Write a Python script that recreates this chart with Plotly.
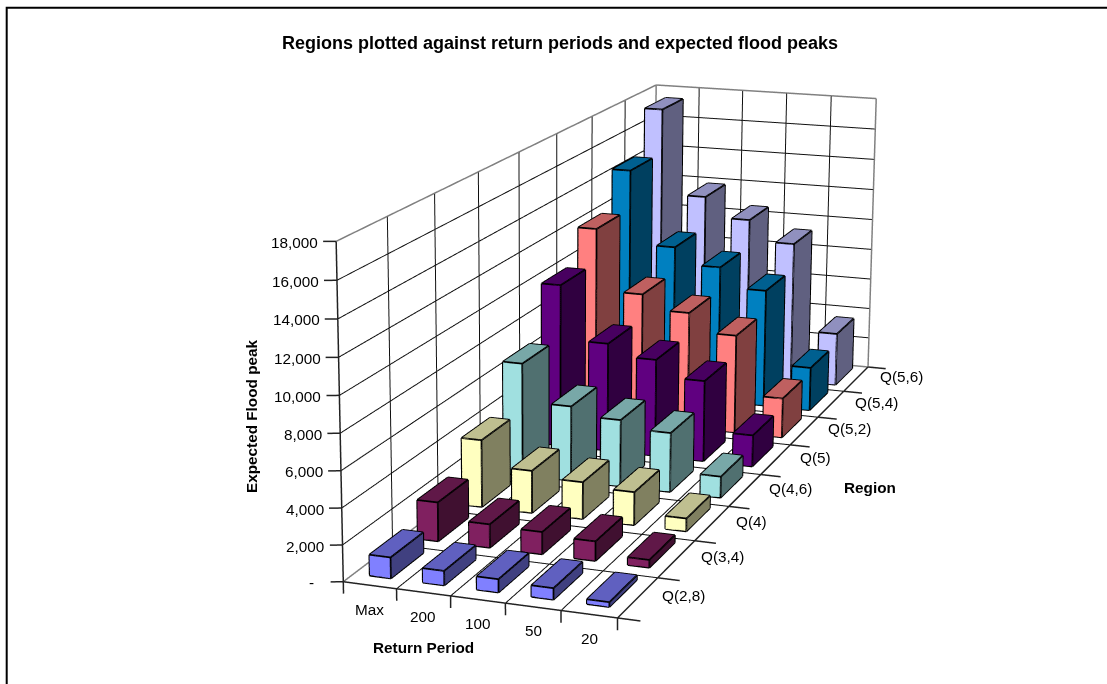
import numpy as np
import plotly.graph_objects as go

return_periods = ["Max", "200", "100", "50", "20"]
regions = ["Q(2,8)", "Q(3,4)", "Q(4)", "Q(4,6)", "Q(5)", "Q(5,2)", "Q(5,4)", "Q(5,6)"]
q28 = [1150, 790, 720, 620, 260]
q34 = [2200, 1320, 1250, 1090, 430]
q4 = [3900, 2450, 2130, 1900, 740]
q46 = [6700, 4450, 3950, 3500, 1250]
q5 = [9900, 6600, 5900, 4900, 1900]
q52 = [12000, 8150, 7250, 6100, 2450]
q54 = [14450, 9750, 8700, 7450, 2750]
q56 = [17300, 11750, 10450, 9100, 3400]
series = [q28, q34, q4, q46, q5, q52, q54, q56]
front = ["#8080FF", "#802060", "#FFFFC0", "#A0E0E0", "#600080", "#FF8080", "#0080C0", "#C0C0FF"]
top = ["#6060C0", "#601848", "#BFBF90", "#78A8A8", "#480060", "#BF6060", "#006090", "#9090BF"]
side = ["#404080", "#401030", "#808060", "#507070", "#300040", "#804040", "#004060", "#606080"]

W, H = 1107, 684
ZM = 18000
# camera for the axis box (0..5, 0..8, 0..ZM)
eye0 = np.array([3.3074, -9.7425, 2.6156])
center0 = np.array([-0.3024, -0.1446, -0.1085])
asp0 = np.array([1.0, 3.3489, 1.2004])
focal = 2737.1
fovy = 2 * np.arctan((H / 2) / focal)
# ranges widened slightly so that the frame and tick marks are not clipped
lo0 = np.array([0.0, 0.0, 0.0]); hi0 = np.array([5.0, 8.0, float(ZM)])
lo = np.array([-0.3, -0.1, -1000.0]); hi = np.array([5.5, 8.1, ZM + 300.0])
k = asp0 / (hi0 - lo0)
asp = asp0 * (hi - lo) / (hi0 - lo0)
shift = ((lo0 + hi0) - (lo + hi)) / 2 * k
eye = eye0 + shift
center = center0 + shift

bar_w = 0.4
bar_d = 0.68
row_offset = 0.05
xs = []; ys = []; zs = []
fig = go.Figure()
for s, vals in enumerate(series):
    X = []; Y = []; Z = []; I = []; J_ = []; K = []; C = []
    for c, v in enumerate(vals):
        x0, x1 = c + 0.5 - bar_w / 2, c + 0.5 + bar_w / 2
        y0, y1 = s + 0.5 + row_offset - bar_d / 2, s + 0.5 + row_offset + bar_d / 2
        n = len(X)
        X += [x0, x1, x1, x0, x0, x1, x1, x0]
        Y += [y0, y0, y1, y1, y0, y0, y1, y1]
        Z += [0, 0, 0, 0, v, v, v, v]
        quads = [((0, 1, 5, 4), front[s]), ((1, 2, 6, 5), side[s]), ((4, 5, 6, 7), top[s])]
        for q, col in quads:
            I += [n + q[0], n + q[0]]; J_ += [n + q[1], n + q[2]]; K += [n + q[2], n + q[3]]; C += [col, col]
        for a, b in [(0,1),(1,2),(1,5),(0,4),(2,6),(4,5),(5,6),(4,7),(6,7)]:
            xs += [X[n+a], X[n+b], None]; ys += [Y[n+a], Y[n+b], None]; zs += [Z[n+a], Z[n+b], None]
    fig.add_trace(go.Mesh3d(x=X, y=Y, z=Z, i=I, j=J_, k=K, facecolor=C, flatshading=True,
                            lighting=dict(ambient=1, diffuse=0, specular=0, fresnel=0, roughness=1),
                            hoverinfo="skip", showscale=False))
fig.add_trace(go.Scatter3d(x=xs, y=ys, z=zs, mode="lines", line=dict(color="black", width=3.5), hoverinfo="skip", showlegend=False))

def seg_trace(segs, color, width):
    xx = []; yy = []; zz = []
    for a, b in segs:
        xx += [a[0], b[0], None]; yy += [a[1], b[1], None]; zz += [a[2], b[2], None]
    return go.Scatter3d(x=xx, y=yy, z=zz, mode="lines", line=dict(color=color, width=width), hoverinfo="skip", showlegend=False)

zvals = list(range(0, ZM + 1, 2000))
grid = []
grid += [((i,0,0),(i,8,0)) for i in range(1, 5)]
grid += [((0,j,0),(5,j,0)) for j in range(1, 8)]
grid += [((i,8,0),(i,8,ZM)) for i in range(1, 5)]
grid += [((0,j,0),(0,j,ZM)) for j in range(1, 8)]
grid += [((0,0,v),(0,8,v)) for v in zvals[1:-1]] + [((0,8,v),(5,8,v)) for v in zvals[1:-1]]
fig.add_trace(seg_trace(grid, "#101010", 2))
fig.add_trace(seg_trace([((0,8,0),(0,0,0)), ((0,0,ZM),(0,8,ZM)), ((0,8,ZM),(5,8,ZM)), ((5,8,ZM),(5,8,0)), ((0,8,0),(0,8,ZM)), ((5,8,0),(0,8,0))], "#808080", 3))
black = [((0,0,0),(5,0,0)), ((5,0,0),(5,8,0)), ((0,0,0),(0,0,ZM))]
black += [((i,0,0),(i,0,-650)) for i in range(6)]
black += [((5,i,0),(5.4,i,0)) for i in range(9)]
black += [((0,0,v),(-0.2,-0.04,v)) for v in zvals]
fig.add_trace(seg_trace(black, "#222222", 3))

FS = 15.3
font = dict(family="Liberation Sans, Arial", size=FS, color="black")
ann = []
for i, t in enumerate(return_periods):
    ann.append(dict(x=i + 0.5, y=0, z=0, text=t, showarrow=False, font=font, xshift=0, yshift=-24))
for i, t in enumerate(regions):
    ann.append(dict(x=5, y=i + 0.5, z=0, text=t, showarrow=False, font=font, xanchor="left", xshift=22, yshift=2))
for v in zvals:
    ann.append(dict(x=0, y=0, z=v, text=f"{v:,}" if v else "-", showarrow=False, font=font, xanchor="right", xshift=-16 if v else -27, yshift=-1))

def axis(i, vals):
    return dict(range=[float(lo[i]), float(hi[i])], tickvals=vals, showticklabels=False, title=dict(text=""), showgrid=False,
                showline=False, ticks="", zeroline=False, showspikes=False, showbackground=False)
fig.update_layout(
    width=W, height=H, margin=dict(l=0, r=0, t=0, b=0), paper_bgcolor="white", showlegend=False,
    title=dict(text="<b>Regions plotted against return periods and expected flood peaks</b>", x=560/W, y=1-43/H, xanchor="center", yanchor="middle",
               font=dict(family="Liberation Sans, Arial", size=18, color="black")),
    scene=dict(
        domain=dict(x=[0, 1], y=[0, 1]),
        xaxis=axis(0, list(range(6))), yaxis=axis(1, list(range(9))), zaxis=axis(2, zvals),
        aspectmode="manual", aspectratio=dict(x=float(asp[0]), y=float(asp[1]), z=float(asp[2])),
        camera=dict(eye=dict(x=float(eye[0]), y=float(eye[1]), z=float(eye[2])), center=dict(x=float(center[0]), y=float(center[1]), z=float(center[2])), up=dict(x=0, y=0, z=1),
                    projection=dict(type="perspective")),
        annotations=ann,
    ),
    shapes=[dict(type="rect", xref="paper", yref="paper", x0=6.7/W, x1=1112/W, y0=-0.1, y1=1-7.7/H, line=dict(color="black", width=2))],
    annotations=[
        dict(text="<b>Return Period</b>", x=423.5/W, y=1-647/H, xref="paper", yref="paper", xanchor="center", yanchor="middle", showarrow=False, font=font),
        dict(text="<b>Region</b>", x=870/W, y=1-487/H, xref="paper", yref="paper", xanchor="center", yanchor="middle", showarrow=False, font=font),
        dict(text="<b>Expected Flood peak</b>", x=251/W, y=1-417/H, xref="paper", yref="paper", xanchor="center", yanchor="middle", showarrow=False, font=font, textangle=-90),
    ],
)
ps = """
document.body.style.margin='0px';document.body.style.overflow='hidden';
(function(){
 function apply(){ try{
  var gd=document.querySelector('.plotly-graph-div');
  var g=gd._fullLayout.scene._scene.glplot; g.fovy=%f; g.redraw();
 }catch(e){} }
 apply(); setTimeout(apply,50); setTimeout(apply,300);
})();
""" % fovy
fig.write_html("out.html", post_script=ps, config=dict(displayModeBar=False))
